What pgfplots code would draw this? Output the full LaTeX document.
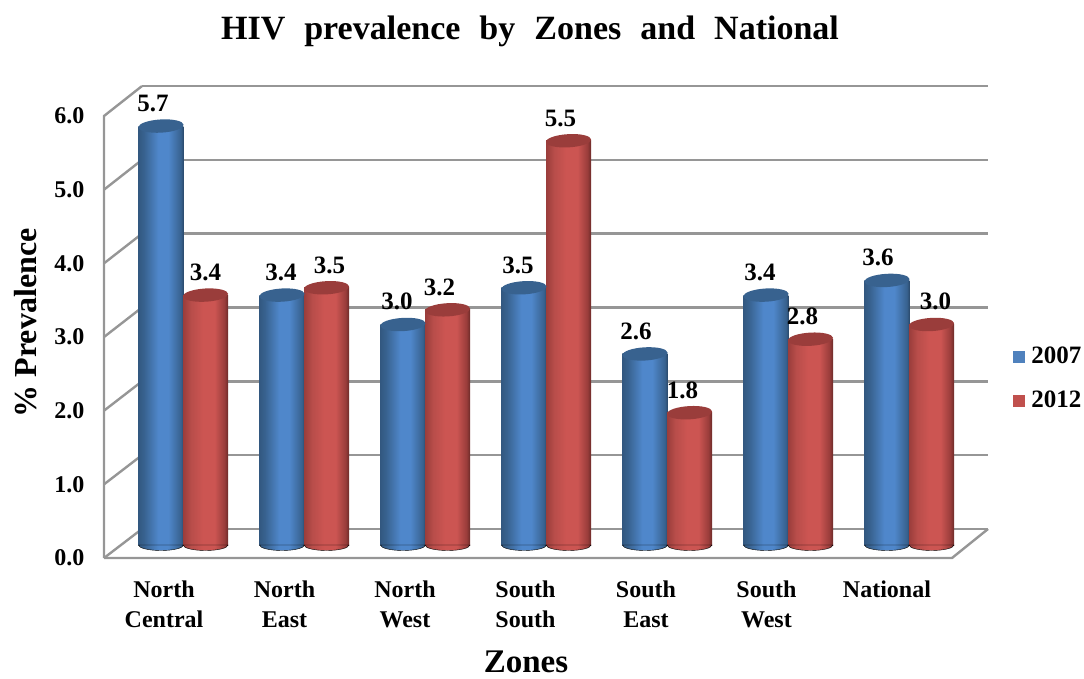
\documentclass[border=0pt]{standalone}
\usepackage{pgfplots}
\usepackage{pgfplotstable}
\pgfplotsset{compat=1.18}
\usepackage{fontspec}
\setmainfont{Liberation Serif}
\definecolor{gridc}{HTML}{969696}
\definecolor{bluecap}{HTML}{38628F}
\definecolor{redcap}{HTML}{9A3D3B}
\definecolor{bluef}{HTML}{4F81BD}
\definecolor{redf}{HTML}{C0504D}
\definecolor{bluemid}{HTML}{4F87CB}
\definecolor{redmid}{HTML}{CC5552}
\definecolor{redlow}{HTML}{B84D4A}
\pgfdeclarehorizontalshading{cylblue}{100bp}{color(0bp)=(black!10!bluecap); color(25bp)=(black!10!bluecap); color(31bp)=(bluecap); color(47bp)=(bluemid); color(58bp)=(bluemid); color(72bp)=(bluecap); color(75bp)=(black!25!bluecap); color(100bp)=(black!25!bluecap)}
\pgfdeclarehorizontalshading{cylred}{100bp}{color(0bp)=(redcap); color(25bp)=(redcap); color(34bp)=(redlow); color(47bp)=(redmid); color(60bp)=(redmid); color(71bp)=(redcap); color(75bp)=(black!30!redcap); color(100bp)=(black!30!redcap)}
\pgfdeclareplotmark{capblue}{\pgfsetfillcolor{bluecap}\pgfpathellipse{\pgfpointorigin}{\pgfpoint{22.6pt}{1.3pt}}{\pgfpoint{-0.4pt}{6.6pt}}\pgfusepathqfill}
\pgfdeclareplotmark{capred}{\pgfsetfillcolor{redcap}\pgfpathellipse{\pgfpointorigin}{\pgfpoint{22.6pt}{1.3pt}}{\pgfpoint{-0.4pt}{6.6pt}}\pgfusepathqfill}
\pgfdeclareplotmark{baseblue}{\path[shading=cylblue] (-22.5pt,0pt) arc[start angle=180,end angle=360,x radius=22.5pt,y radius=5.5pt] -- cycle;}
\pgfdeclareplotmark{basered}{\path[shading=cylred] (-22.5pt,0pt) arc[start angle=180,end angle=360,x radius=22.5pt,y radius=5.5pt] -- cycle;}
\pgfplotstableread{
x y dx
-0.186 5.7 -8
0.814 3.4 -1
1.814 3.0 -6
2.814 3.5 -6
3.814 2.6 -9
4.814 3.4 -6
5.814 3.6 -9
}\tableA
\pgfplotstableread{
x y dx
0.182 3.4 0
1.182 3.5 3
2.182 3.2 -8
3.182 5.5 -8
4.182 1.8 -7
5.182 2.8 -8
6.182 3.0 4
}\tableB
\newcommand{\ws}{\hspace*{0.56em}}
\newcommand{\barA}[2]{\addplot[forget plot,ybar,bar width=45pt,bar shift=0pt,draw=none,shading=cylblue] coordinates {(#1,#2)};}
\newcommand{\barB}[2]{\addplot[forget plot,ybar,bar width=45pt,bar shift=0pt,draw=none,shading=cylred] coordinates {(#1,#2)};}
\begin{document}
\begin{tikzpicture}
\path[use as bounding box] (0,0) rectangle (1084pt,678pt);
% back wall
\begin{axis}[at={(142pt,149pt)},anchor=south west,scale only axis,width=846pt,height=443pt,
  xmin=0,xmax=1,ymin=0,ymax=6,ytick={0,1,2,3,4,5,6},xtick=\empty,yticklabels={},
  axis line style={draw=none},tick style={draw=none},
  ymajorgrids,grid style={gridc,line width=2.4pt}]
\end{axis}
% front frame with labels
\begin{axis}[at={(104pt,120pt)},anchor=south west,scale only axis,width=848pt,height=442pt,
  xmin=-0.498,xmax=6.54,ymin=0,ymax=6,clip=false,
  axis line style={draw=none},tick style={draw=none},
  ytick={0,1,2,3,4,5,6},
  xtick={0,1,2,3,4,5,6},
  xticklabels={{North\\Central},{North\\East},{North\\West},{South\\South},{South\\East},{South\\West},{National}},
  /pgf/number format/assume math mode=true,
  /pgf/number format/fixed,/pgf/number format/fixed zerofill,/pgf/number format/precision=1,
  yticklabel style={font=\fontsize{24}{28}\selectfont\bfseries,anchor=east,xshift=-16pt},
  xticklabel style={font=\fontsize{24}{30}\selectfont\bfseries,align=center,anchor=north,yshift=-19pt},
  xlabel={Zones},
  xlabel style={font=\fontsize{33}{36}\selectfont\bfseries,at={(axis description cs:0.4976,-0.236)},anchor=center,inner sep=0pt},
  ylabel={\% Prevalence},
  ylabel style={font=\fontsize{32}{36}\selectfont\bfseries,at={(axis description cs:-0.092,0.532)},anchor=center,rotate=0},
  title={HIV\ws prevalence\ws by\ws Zones\ws and\ws National},
  title style={font=\fontsize{34}{38}\selectfont\bfseries,at={(axis description cs:0,1)},anchor=center,xshift=426pt,yshift=79pt}]
\addplot[gridc,line width=2.4pt] coordinates {(-0.498,0) (6.54,0) (6.839,0.394)};
\addplot[gridc,line width=2.4pt] coordinates {(-0.498,0) (-0.498,6) (-0.183,6.406)};
\addplot[gridc,line width=2.4pt] coordinates {(-0.498,0) (-0.183,0.394)};
\addplot[gridc,line width=2.4pt] coordinates {(-0.498,1) (-0.183,1.396)};
\addplot[gridc,line width=2.4pt] coordinates {(-0.498,2) (-0.183,2.398)};
\addplot[gridc,line width=2.4pt] coordinates {(-0.498,3) (-0.183,3.400)};
\addplot[gridc,line width=2.4pt] coordinates {(-0.498,4) (-0.183,4.402)};
\addplot[gridc,line width=2.4pt] coordinates {(-0.498,5) (-0.183,5.404)};
\end{axis}
% bars
\begin{axis}[at={(104pt,133pt)},anchor=south west,scale only axis,width=884pt,height=441pt,
  xmin=-0.657,xmax=6.649,ymin=0,ymax=6,clip=false,
  axis lines=none,
  legend cell align=left,
  legend style={at={(axis description cs:1.027,0.379)},anchor=west,draw=none,fill=none,inner sep=0pt,
    font=\fontsize{25}{28}\selectfont\bfseries,row sep=22pt,/tikz/every odd column/.append style={column sep=4pt}},
  nodes near coords style={font=\fontsize{25}{28}\selectfont\bfseries,text=black},
  ]
\addlegendimage{legend image code/.code={\path[fill=bluef,draw=white] (0pt,-7pt) rectangle (13pt,6pt);}}
\addlegendentry{2007}
\addlegendimage{legend image code/.code={\path[fill=redf,draw=white] (0pt,-7pt) rectangle (13pt,6pt);}}
\addlegendentry{2012}
% base ellipses and bodies
\addplot[forget plot,only marks,mark=baseblue] table[x=x,y expr=0] {\tableA};
\barA{-0.186}{5.7}\barA{0.814}{3.4}\barA{1.814}{3.0}\barA{2.814}{3.5}\barA{3.814}{2.6}\barA{4.814}{3.4}\barA{5.814}{3.6}
\addplot[forget plot,only marks,mark=capblue] table[x=x,y=y] {\tableA};
\addplot[forget plot,only marks,mark=basered] table[x=x,y expr=0] {\tableB};
\barB{0.182}{3.4}\barB{1.182}{3.5}\barB{2.182}{3.2}\barB{3.182}{5.5}\barB{4.182}{1.8}\barB{5.182}{2.8}\barB{6.182}{3.0}
\addplot[forget plot,only marks,mark=capred] table[x=x,y=y] {\tableB};
% data labels
\addplot[forget plot,only marks,mark=none,
  visualization depends on={\thisrow{dx} \as \dxv},
  nodes near coords={\pgfmathprintnumber[fixed,fixed zerofill,precision=1,assume math mode=true]{\pgfplotspointmeta}},
  every node near coord/.append style={inner sep=0pt,anchor=south,xshift=\dxv pt,yshift=14pt}] table[x=x,y=y] {\tableA};
\addplot[forget plot,only marks,mark=none,
  visualization depends on={\thisrow{dx} \as \dxv},
  nodes near coords={\pgfmathprintnumber[fixed,fixed zerofill,precision=1,assume math mode=true]{\pgfplotspointmeta}},
  every node near coord/.append style={inner sep=0pt,anchor=south,xshift=\dxv pt,yshift=14pt}] table[x=x,y=y] {\tableB};
\end{axis}
\end{tikzpicture}
\end{document}
